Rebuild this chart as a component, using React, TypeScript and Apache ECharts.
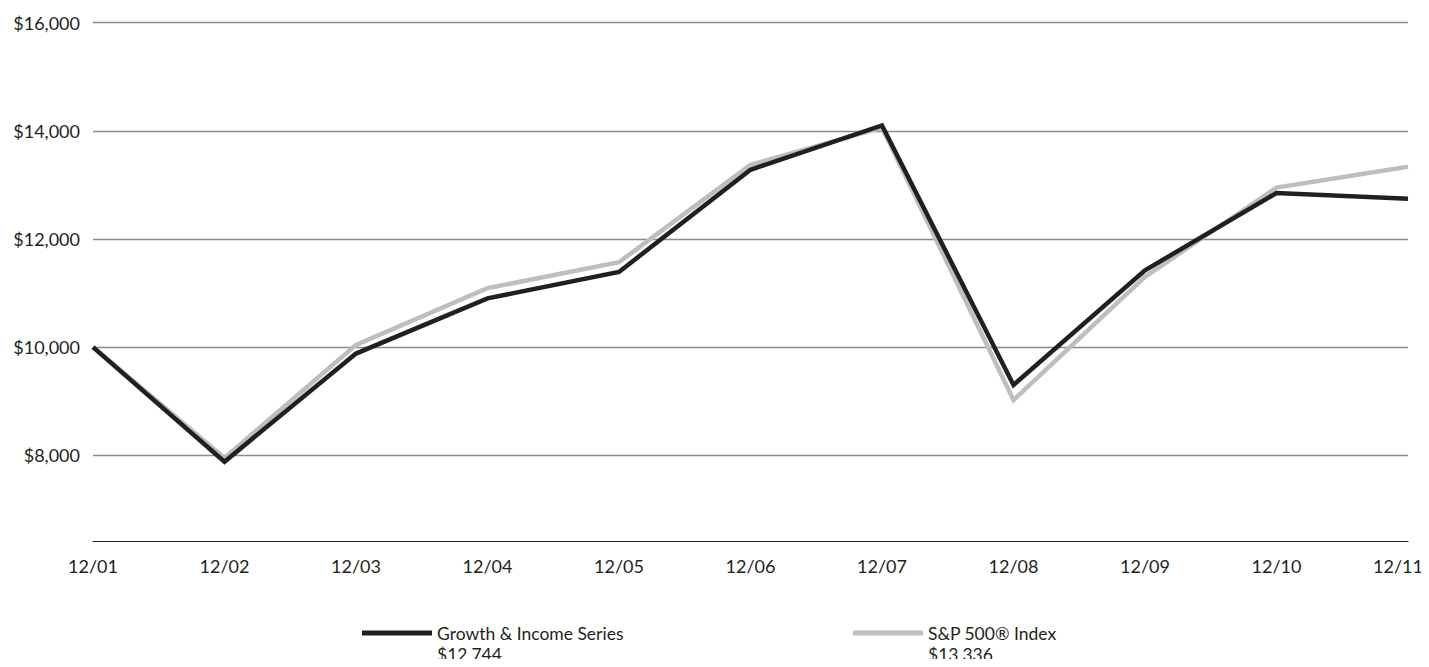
import React, { useEffect, useRef } from "react";
import * as echarts from "echarts";

// Year-end values of a hypothetical $10,000 investment
const categories = ["12/01", "12/02", "12/03", "12/04", "12/05", "12/06", "12/07", "12/08", "12/09", "12/10", "12/11"];
const growthIncome = [10000, 7880, 9880, 10900, 11390, 13280, 14100, 9300, 11420, 12850, 12744];
const sp500 = [10000, 7950, 10040, 11090, 11570, 13370, 14060, 9020, 11300, 12950, 13336];
const yTicks = [8000, 10000, 12000, 14000, 16000];

const seriesNames = ["Growth & Income Series", "S&P 500® Index"];
const seriesColors = ["#231f20", "#bcbec0"];

const FONT = "Lato, 'Open Sans', sans-serif";
const TEXT = "#231f20";

const money = (v: number) => "$" + v.toLocaleString("en-US");

export default function App() {
  const ref = useRef<HTMLDivElement>(null);

  useEffect(() => {
    if (!ref.current) return;
    const chart = echarts.init(ref.current, null, { renderer: "svg" });
    const lastIdx = categories.length - 1;

    const legendBase = {
      top: 615,
      padding: 0,
      icon: "rect",
      itemWidth: 70,
      itemHeight: 5,
      textStyle: { fontSize: 17.5, fontFamily: FONT, color: TEXT, lineHeight: 20 },
    };

    chart.setOption({
      animation: false,
      backgroundColor: "#ffffff",
      textStyle: { fontFamily: FONT, color: TEXT },
      grid: { left: 85, right: 21, top: 14.7, bottom: 125.3, outerBoundsMode: "none", containLabel: false },
      xAxis: {
        type: "category",
        data: categories,
        boundaryGap: false,
        axisLine: { show: true, lineStyle: { color: TEXT, width: 1.2 } },
        axisTick: { show: false },
        splitLine: { show: false },
        axisLabel: {
          color: TEXT,
          fontFamily: FONT,
          fontSize: 18,
          margin: 15,
          interval: 0,
          formatter: (v: string, i: number) => (i === lastIdx ? "{last|" + v + "}" : v),
          rich: { last: { fontSize: 18, fontFamily: FONT, color: TEXT, padding: [0, 20, 0, 0] } },
        },
      },
      yAxis: {
        type: "value",
        min: 6400,
        max: 16000,
        axisLine: { show: false },
        axisTick: { show: false, customValues: yTicks },
        splitLine: { show: true, lineStyle: { color: "#8c8c8c", width: 1.4 } },
        axisLabel: {
          color: TEXT,
          fontFamily: FONT,
          fontSize: 18,
          margin: 13,
          customValues: yTicks,
          formatter: (v: number) => money(v),
        },
      },
      legend: [
        { ...legendBase, data: [seriesNames[0]], left: 354 },
        { ...legendBase, data: [seriesNames[1]], left: 845 },
      ],
      graphic: [
        {
          type: "text",
          left: 429,
          top: 637,
          style: { text: money(growthIncome[lastIdx]), fontSize: 17.5, fontFamily: FONT, fill: TEXT },
        },
        {
          type: "text",
          left: 920,
          top: 637,
          style: { text: money(sp500[lastIdx]), fontSize: 17.5, fontFamily: FONT, fill: TEXT },
        },
      ],
      series: [
        {
          name: seriesNames[1],
          type: "line",
          data: sp500,
          symbol: "none",
          color: seriesColors[1],
          lineStyle: { color: seriesColors[1], width: 4.5, join: "miter" },
          z: 2,
        },
        {
          name: seriesNames[0],
          type: "line",
          data: growthIncome,
          symbol: "none",
          color: seriesColors[0],
          lineStyle: { color: seriesColors[0], width: 4.5, join: "miter" },
          z: 3,
        },
      ],
    });

    return () => chart.dispose();
  }, []);

  return <div ref={ref} style={{ width: 1421, height: 659, marginBottom: -8 }} />;
}
